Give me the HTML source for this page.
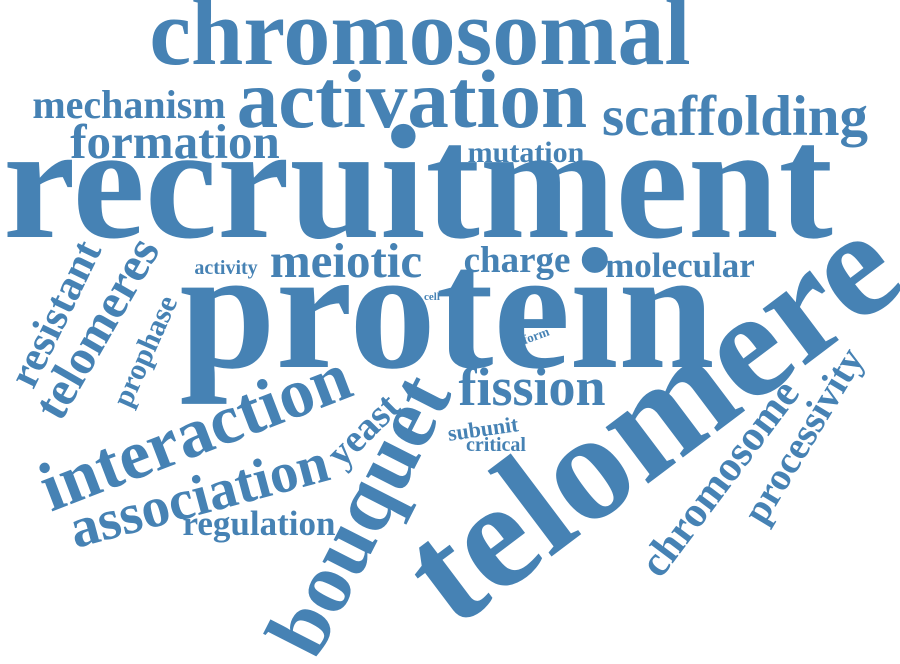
<!DOCTYPE html>
<html><head><meta charset="utf-8"><style>
html,body{margin:0;padding:0;background:#fff;}
svg{display:block}
text{font-family:"Liberation Serif",serif;font-weight:bold;fill:#4682b4;text-anchor:middle;}
</style></head><body>
<svg width="900" height="664" viewBox="0 0 900 664">
<text x="420" y="64" font-size="94">chromosomal</text>
<text x="412" y="127" font-size="83">activation</text>
<text x="129" y="118" font-size="40">mechanism</text>
<text x="735" y="135" font-size="57">scaffolding</text>
<text x="175" y="158" font-size="49">formation</text>
<text x="526" y="162" font-size="30">mutation</text>
<text x="418" y="237" font-size="163">recruitment</text>
<text x="447" y="367" font-size="173">protein</text>
<text x="226" y="274" font-size="20">activity</text>
<text x="346" y="277" font-size="49">meiotic</text>
<text x="517" y="272" font-size="37">charge</text>
<text x="680" y="277" font-size="35">molecular</text>
<text x="432" y="300" font-size="11">cell</text>
<text font-size="13" transform="translate(536,336) rotate(-20)" dy="0.3em">form</text>
<text x="532" y="405" font-size="54">fission</text>
<text font-size="22" transform="translate(484,436) rotate(-8)">subunit</text>
<text x="496" y="451" font-size="20">critical</text>
<text x="259" y="535" font-size="35">regulation</text>
<text font-size="154" transform="translate(658,428) rotate(-37)" dy="0.25em">telomere</text>
<text font-size="86" transform="translate(365,518) rotate(-63)" dy="0.25em">bouquet</text>
<text font-size="70" transform="translate(197,437) rotate(-21)" dy="0.25em">interaction</text>
<text font-size="57" transform="translate(200,500) rotate(-15)" dy="0.25em">association</text>
<text font-size="39" transform="translate(365,432) rotate(-45)" dy="0.25em">yeast</text>
<text font-size="43" transform="translate(722,480) rotate(-53)" dy="0.25em">chromosome</text>
<text font-size="39" transform="translate(806,437) rotate(-59)" dy="0.25em">processivity</text>
<text font-size="43" transform="translate(58,315) rotate(-64)" dy="0.25em">resistant</text>
<text font-size="49" transform="translate(100,330) rotate(-60)" dy="0.25em">telomeres</text>
<text font-size="30" transform="translate(147,352) rotate(-66)" dy="0.25em">prophase</text>
</svg>
</body></html>
